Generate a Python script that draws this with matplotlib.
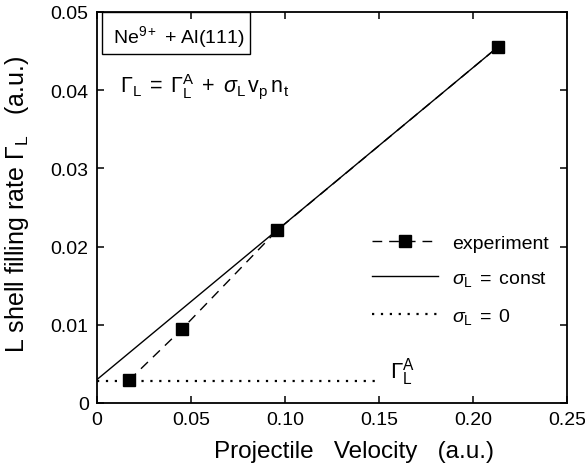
import matplotlib
matplotlib.use("Agg")
import matplotlib.pyplot as plt
from matplotlib.patches import Rectangle

plt.rcParams['font.family'] = ['Liberation Sans', 'DejaVu Sans']
plt.rcParams['mathtext.fontset'] = 'custom'
plt.rcParams['mathtext.rm'] = 'Liberation Sans'
plt.rcParams['mathtext.it'] = 'Liberation Sans:italic'
plt.rcParams['mathtext.bf'] = 'Liberation Sans:bold'

# experimental data
velocity = [0.017, 0.0454, 0.0959, 0.2131]
fill_rate = [0.0029, 0.0095, 0.0221, 0.0455]
# model sigma_L = const
const_x = [0.0, 0.2131]
const_y = [0.0030, 0.0455]
# model sigma_L = 0
zero_x = [0.0, 0.148]
zero_y = [0.0028, 0.0028]

xticks = [0, 0.05, 0.10, 0.15, 0.20, 0.25]
xticklabels = ['0', '0.05', '0.10', '0.15', '0.20', '0.25']
yticks = [0, 0.01, 0.02, 0.03, 0.04, 0.05]
yticklabels = ['0', '0.01', '0.02', '0.03', '0.04', '0.05']

fig = plt.figure(figsize=(5.85, 4.64), dpi=100)
ax = fig.add_axes([97/585, 60/464, 470/585, 391/464])

ax.plot(velocity, fill_rate, color='black', lw=1.0, dashes=(7, 5),
        marker='s', markersize=8, label='experiment')
ax.plot(const_x, const_y, color='black', lw=1.0,
        label=r'$\sigma_\mathrm{L}\;=\;\mathrm{const}$')
ax.plot(zero_x, zero_y, color='black', lw=1.6, dashes=(1, 3),
        label=r'$\sigma_\mathrm{L}\;=\;0$')

ax.set_xlim(0, 0.25)
ax.set_ylim(0, 0.05)
ax.set_xticks(xticks)
ax.set_xticklabels(xticklabels)
ax.set_yticks(yticks)
ax.set_yticklabels(yticklabels)
ax.tick_params(direction='in', length=5, width=1.1, labelsize=14,
               top=True, right=True, pad=6)
for s in ax.spines.values():
    s.set_linewidth(1.3)

ax.set_xlabel('Projectile   Velocity   (a.u.)', fontsize=17.5)
ax.xaxis.set_label_coords((354 - 97) / 470, -0.095)
ax.set_ylabel(r'L shell filling rate $\Gamma_\mathrm{L}$   (a.u.)', fontsize=18)
ax.yaxis.set_label_coords(-0.14, (404 - 204) / 391)

ax.add_patch(Rectangle((0.0025, 0.0446), 0.0789, 0.0054, fill=False,
                       edgecolor='black', lw=1.0))
ax.text(0.0085, 0.0461, r'Ne$^{9+}$ + Al(111)', fontsize=14)
ax.text(0.0122, 0.0399,
        r'$\Gamma_\mathrm{L}\;=\;\Gamma_\mathrm{L}^\mathrm{A}\;+\;\sigma_\mathrm{L}\,\mathrm{v_p\,n_t}$',
        fontsize=15.5)
ax.text(0.156, 0.0033, r'$\Gamma_\mathrm{L}^\mathrm{A}$', fontsize=16)

leg = ax.legend(loc='upper left', bbox_to_anchor=(0.585, 0.432), frameon=False,
                fontsize=14, handlelength=3.4, handletextpad=0.7,
                labelspacing=0.9, borderpad=0, borderaxespad=0)

fig.savefig('out.png', dpi=100)
